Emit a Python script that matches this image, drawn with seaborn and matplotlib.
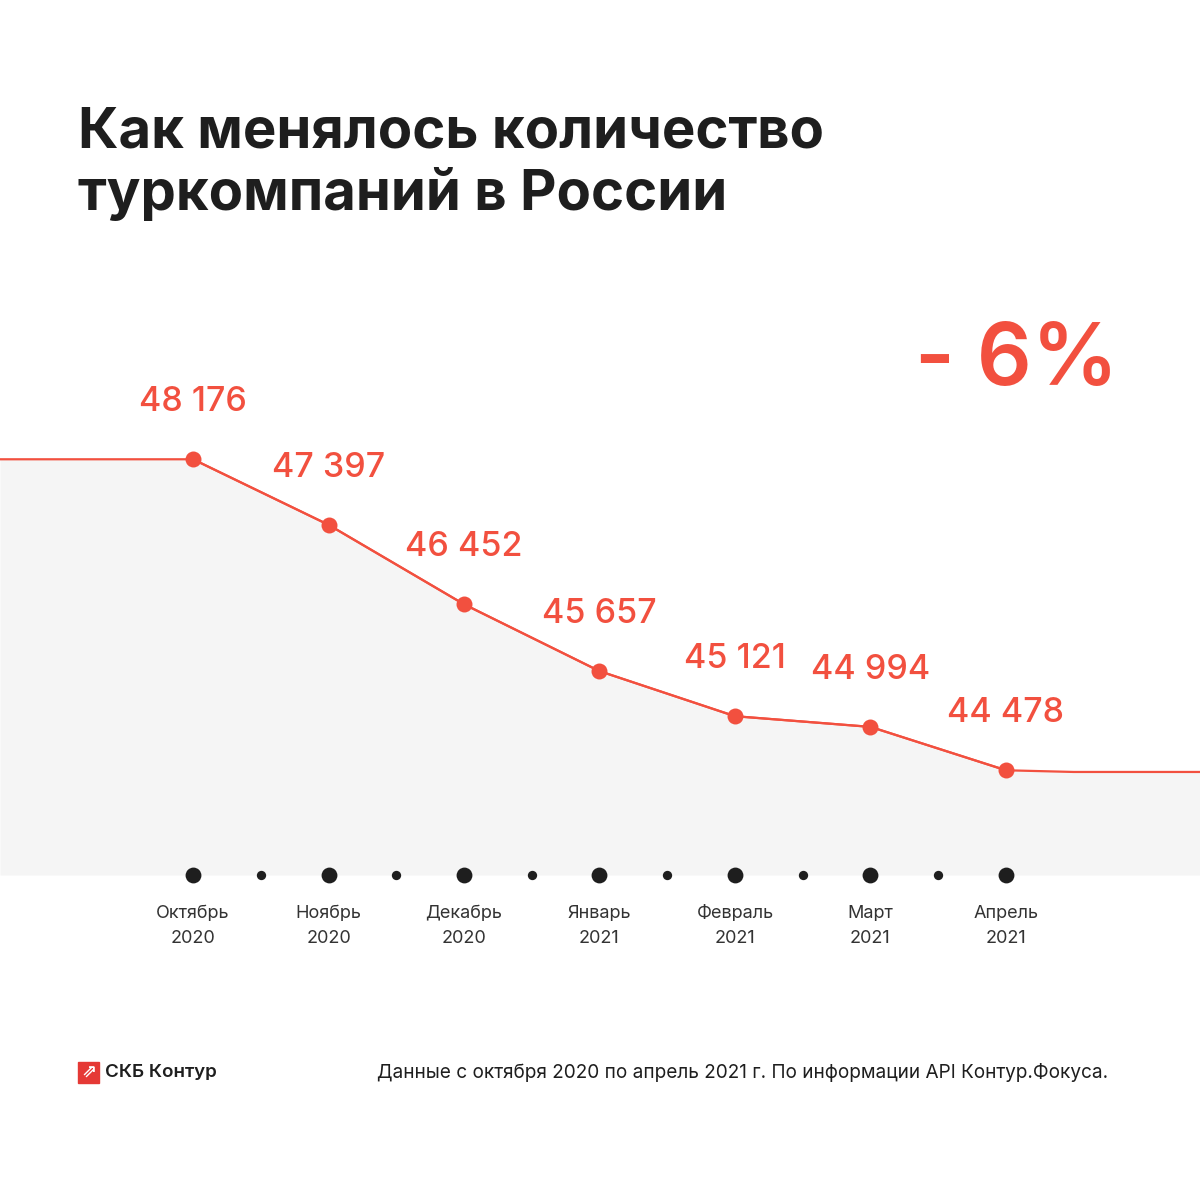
import matplotlib
matplotlib.use("Agg")
import matplotlib.pyplot as plt
import seaborn as sns
import numpy as np
import pandas as pd
from matplotlib.patches import Rectangle

months = ["Октябрь", "Ноябрь", "Декабрь", "Январь", "Февраль", "Март", "Апрель"]
years = ["2020", "2020", "2020", "2021", "2021", "2021", "2021"]
values = [48176, 47397, 46452, 45657, 45121, 44994, 44478]
value_labels = ["48 176", "47 397", "46 452", "45 657", "45 121", "44 994", "44 478"]
title = "Как менялось количество\nтуркомпаний в России"
change_label = "- 6%"
source = "Данные с октября 2020 по апрель 2021 г. По информации API Контур.Фокуса."
brand = "СКБ Контур"

RED = "#F2503F"
DARK = "#1E1E1E"
FILL = "#F5F5F5"

sns.set_theme(style="white")
plt.rcParams['font.family'] = ['Inter', 'DejaVu Sans']

W, H = 1200, 1185
fig = plt.figure(figsize=(W / 100, H / 100), dpi=100)
fig.patch.set_facecolor("white")

# axes spans full width, pixel y 300..875
ax_top, ax_bot = 300, 875
ax = fig.add_axes([0, (H - ax_bot) / H, 1, (ax_bot - ax_top) / H])
ax.set_facecolor("none")

df = pd.DataFrame({"idx": np.arange(len(values)), "value": values})
step = 135.5
x_left = -193 / step
x_right = (W - 193) / step
# pixel scale: ~0.0841 px per unit, value 46039 sits at pixel 639
ppu = 0.0841
v_ref, p_ref = 46039.0, 639.0
y_bot = v_ref - (ax_bot - p_ref) / ppu
y_top = v_ref + (p_ref - ax_top) / ppu
ax.set_xlim(x_left, x_right)
ax.set_ylim(y_bot, y_top)

# extended line (flat beyond the data)
ext_x = [x_left, -0.06] + list(df["idx"]) + [6.5, x_right]
ext_y = [values[0], values[0]] + list(values) + [values[-1] - 20, values[-1] - 20]
ax.fill_between(ext_x, ext_y, y_bot, color=FILL, lw=0, zorder=0)
ax.plot(ext_x, ext_y, color=RED, lw=1.6, zorder=2, solid_capstyle="round")

sns.lineplot(data=df, x="idx", y="value", ax=ax, color=RED, lw=1.6,
             marker="o", markersize=11.5, markeredgewidth=0, zorder=3)

for i, (v, lab) in enumerate(zip(values, value_labels)):
    ax.annotate(lab, (i, v), xytext=(0, 41), textcoords="offset points",
                ha="center", va="center", color=RED, fontsize=24.5, fontweight="medium")

# timeline dots
ax.scatter(df["idx"], [y_bot] * len(values), s=130, color=DARK, clip_on=False, zorder=4, lw=0)
mids = (df["idx"][:-1] + 0.5).values
ax.scatter(mids, [y_bot] * len(mids), s=45, color=DARK, clip_on=False, zorder=4, lw=0)

for i, (m, yr) in enumerate(zip(months, years)):
    ax.annotate(m, (i, y_bot), xytext=(0, -27.5), textcoords="offset points",
                ha="center", va="center", color="#333333", fontsize=13)
    ax.annotate(yr, (i, y_bot), xytext=(0, -46), textcoords="offset points",
                ha="center", va="center", color="#333333", fontsize=13)

ax.set_xlabel("")
ax.set_ylabel("")
ax.set_xticks([])
ax.set_yticks([])
for s in ax.spines.values():
    s.set_visible(False)

# title
fig.text(78 / W, 1 - 106 / H, title, ha="left", va="top", fontsize=40.5,
         fontweight="bold", color=DARK, linespacing=1.22)

# change label
fig.text(1118 / W, 1 - 362 / H, change_label, ha="right", va="center",
         fontsize=62, fontweight="semibold", color=RED)

# footer logo
lx, ly, ls = 78, 1062, 21
fig.patches.append(Rectangle((lx / W, 1 - (ly + ls) / H), ls / W, ls / H,
                             transform=fig.transFigure, color="#E53935", zorder=5))
fig.text((lx + ls / 2) / W, 1 - (ly + ls / 2) / H, "⇗", ha="center", va="center",
         fontsize=13, color="white", fontweight="bold", family=["DejaVu Sans"], zorder=6)
fig.text(105 / W, 1 - 1073 / H, brand, ha="left", va="center", fontsize=13.5,
         fontweight="semibold", color=DARK)
fig.text(1108 / W, 1 - 1073 / H, source, ha="right", va="center", fontsize=13.7,
         color=DARK)

fig.savefig("out.png", dpi=100, facecolor="white")
